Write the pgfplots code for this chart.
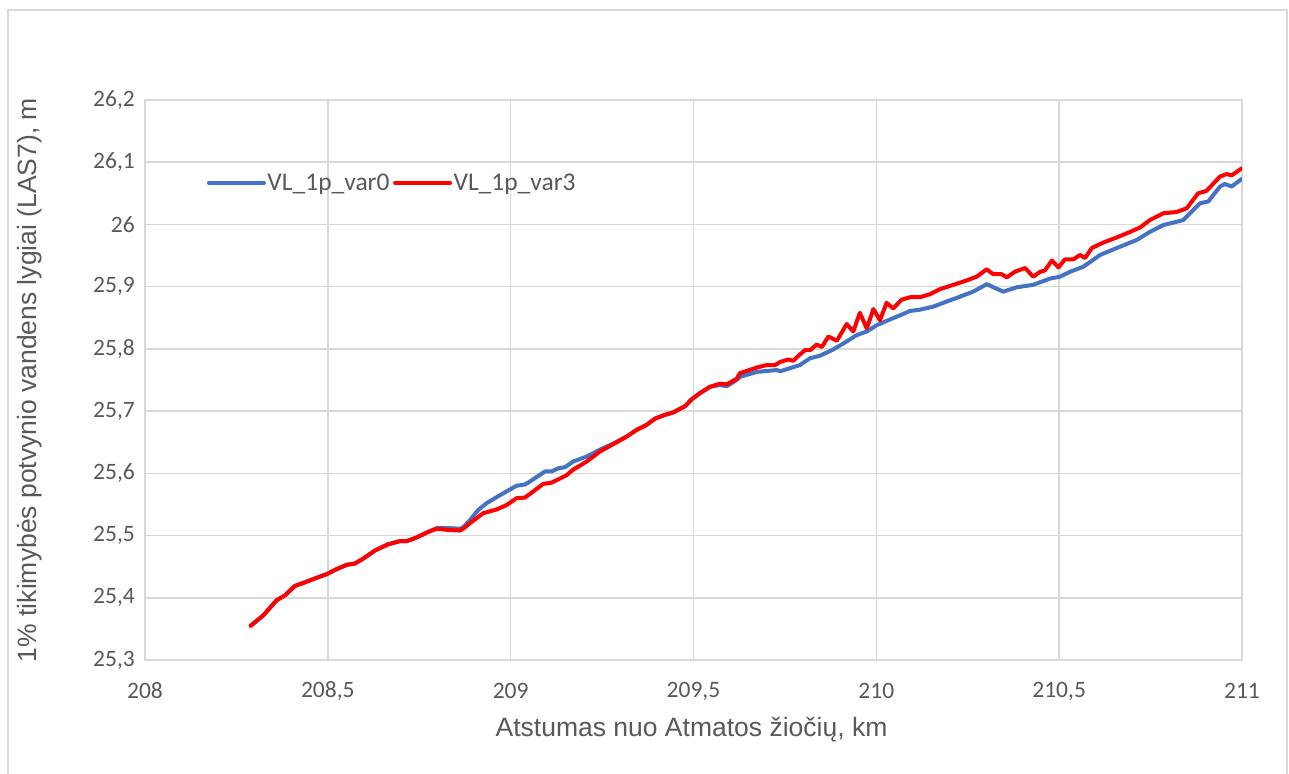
\documentclass[border=0pt]{standalone}
\usepackage{fontspec}
\setmainfont{Carlito}
\newfontfamily\arialf{Liberation Sans}
\usepackage{pgfplots}
\usepackage{pgfplotstable}
\pgfplotsset{compat=1.18}
\definecolor{gridc}{HTML}{D9D9D9}
\definecolor{txtc}{HTML}{595959}
\definecolor{bluec}{HTML}{4472C4}
\definecolor{redc}{HTML}{FF0000}

\pgfplotstableread{
x y
208.289 25.355
208.324 25.372
208.360 25.396
208.383 25.404
208.410 25.419
208.429 25.423
208.460 25.430
208.497 25.438
208.524 25.446
208.552 25.453
208.574 25.455
208.597 25.463
208.629 25.476
208.665 25.486
208.697 25.491
208.716 25.491
208.743 25.497
208.775 25.506
208.798 25.512
208.829 25.512
208.861 25.511
208.870 25.513
208.889 25.525
208.911 25.541
208.934 25.552
208.980 25.568
209.016 25.580
209.039 25.582
209.053 25.587
209.094 25.603
209.112 25.603
209.130 25.608
209.149 25.610
209.171 25.619
209.208 25.627
209.244 25.638
209.281 25.648
209.317 25.659
209.345 25.670
209.372 25.678
209.395 25.688
209.417 25.693
209.445 25.698
209.477 25.708
209.495 25.719
209.518 25.729
209.545 25.739
209.572 25.742
209.591 25.740
209.618 25.750
209.627 25.755
209.673 25.763
209.728 25.766
209.737 25.764
209.764 25.769
209.791 25.774
209.819 25.785
209.846 25.789
209.882 25.799
209.919 25.812
209.946 25.822
209.974 25.828
210.001 25.838
210.028 25.845
210.065 25.854
210.092 25.861
210.119 25.863
210.156 25.868
210.192 25.876
210.229 25.884
210.265 25.892
210.302 25.904
210.347 25.892
210.384 25.899
210.429 25.903
210.475 25.913
210.502 25.916
210.530 25.924
210.566 25.932
210.612 25.951
210.657 25.962
210.712 25.975
210.748 25.988
210.785 25.999
210.839 26.007
210.885 26.034
210.908 26.037
210.940 26.061
210.953 26.065
210.972 26.061
210.999 26.073
}\varzero

\pgfplotstableread{
x y
208.289 25.355
208.324 25.372
208.360 25.396
208.383 25.404
208.410 25.419
208.429 25.423
208.460 25.430
208.497 25.438
208.524 25.446
208.552 25.453
208.574 25.455
208.597 25.463
208.629 25.476
208.665 25.486
208.697 25.491
208.716 25.491
208.743 25.497
208.775 25.506
208.798 25.511
208.829 25.509
208.861 25.508
208.870 25.511
208.889 25.520
208.925 25.536
208.962 25.542
208.989 25.549
209.016 25.560
209.039 25.561
209.053 25.567
209.089 25.583
209.112 25.585
209.153 25.597
209.171 25.606
209.208 25.619
209.244 25.635
209.281 25.647
209.317 25.659
209.345 25.670
209.372 25.678
209.395 25.688
209.417 25.693
209.445 25.698
209.477 25.708
209.495 25.719
209.518 25.729
209.545 25.739
209.572 25.744
209.591 25.743
209.618 25.752
209.627 25.761
209.673 25.770
209.700 25.774
209.723 25.774
209.737 25.779
209.759 25.783
209.773 25.781
209.787 25.789
209.805 25.798
209.819 25.798
209.837 25.807
209.851 25.803
209.869 25.820
209.892 25.813
209.919 25.840
209.937 25.828
209.955 25.858
209.974 25.833
209.992 25.864
210.010 25.846
210.028 25.874
210.046 25.865
210.069 25.879
210.092 25.883
210.119 25.883
210.147 25.888
210.174 25.896
210.211 25.903
210.247 25.910
210.274 25.916
210.302 25.928
210.320 25.920
210.343 25.920
210.357 25.915
210.379 25.924
210.407 25.930
210.429 25.916
210.448 25.924
210.461 25.926
210.480 25.942
210.498 25.931
210.516 25.944
210.539 25.944
210.557 25.951
210.571 25.946
210.589 25.962
210.621 25.971
210.657 25.979
210.694 25.988
210.721 25.995
210.748 26.007
210.785 26.018
210.821 26.020
210.849 26.026
210.880 26.050
210.903 26.054
210.940 26.077
210.958 26.081
210.972 26.079
210.999 26.090
}\varthree

\begin{document}
\begin{tikzpicture}
\path[use as bounding box] (-145bp,-114bp) rectangle (1144bp,660bp);
\fill[white] (-145bp,-114bp) rectangle (1144bp,660bp);
\draw[gridc, line width=1.5bp] (-137bp,-140bp) rectangle (1142bp,650bp);
\begin{axis}[
  at={(0,0)}, anchor=south west,
  scale only axis,
  width=1097bp, height=560bp,
  xmin=208, xmax=211, ymin=25.3, ymax=26.2,
  xtick={208,208.5,...,211},
  ytick={25.3,25.4,...,26.21},
  major tick length=0pt,
  grid=major,
  major grid style={gridc, line width=1.5bp},
  axis line style={gridc, line width=1.5bp},
  /pgf/number format/assume math mode=true,
  /pgf/number format/use comma,
  /pgf/number format/fixed,
  /pgf/number format/precision=1,
  ticklabel style={font=\fontsize{23.5bp}{27bp}\selectfont, text=txtc, inner sep=0pt},
  xticklabel style={anchor=center, yshift=-31bp},
  yticklabel style={anchor=east, xshift=-10bp},
  xlabel={Atstumas nuo Atmatos žiočių, km},
  ylabel={1\% tikimybės potvynio vandens lygiai (LAS7), m},
  label style={font=\arialf\fontsize{26.5bp}{31bp}\selectfont, text=txtc, inner sep=0pt},
  xlabel style={at={(axis description cs:0.4982,-0.125)}, anchor=center},
  ylabel style={at={(axis description cs:-0.1048,0.5)}, anchor=center, rotate=0},
  legend columns=2,
  legend style={at={(axis description cs:0.0565,0.852)}, anchor=west,
    draw=none, fill=none, inner sep=0pt, outer sep=0pt,
    font=\fontsize{25.5bp}{29bp}\selectfont, text=txtc,
    nodes={inner sep=1.5bp},
    /tikz/every even column/.append style={column sep=2bp}},
  legend image code/.code={\draw[#1] (0bp,0bp) -- (55bp,0bp);},
  every axis plot/.append style={line width=4bp, line join=round, line cap=round},
]
\addplot[bluec] table[x=x,y=y] {\varzero};
\addlegendentry{VL\_1p\_var0}
\addplot[redc] table[x=x,y=y] {\varthree};
\addlegendentry{VL\_1p\_var3}
\end{axis}
\end{tikzpicture}
\end{document}
